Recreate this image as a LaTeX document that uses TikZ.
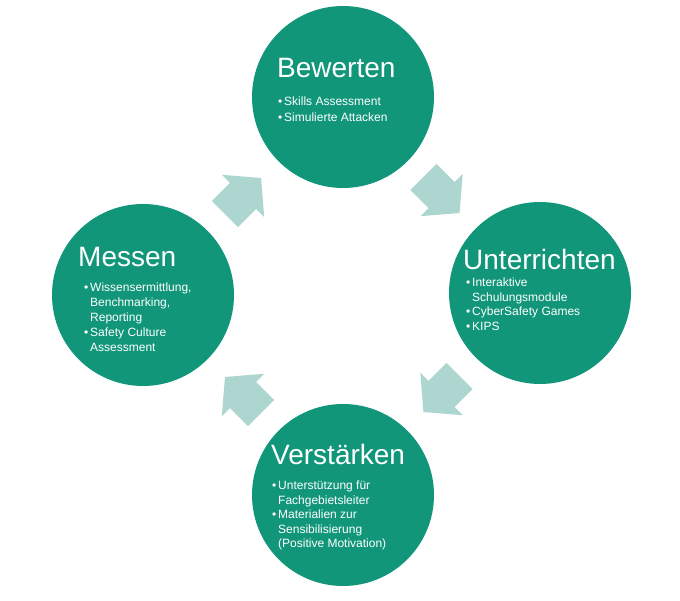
\documentclass[tikz,border=0pt]{standalone}
\usepackage{fontspec}
\setmainfont{Liberation Sans}
\usetikzlibrary{calc}
\definecolor{stagegreen}{RGB}{17,150,122}
\definecolor{flowgreen}{RGB}{174,214,209}
\def\blockarrow(#1)(#2)(#3){\fill[flowgreen, shift={($(#1)!0.5!(#2)$)}, rotate=#3] (-25.5,-18.5) -- (0,-18.5) -- (0,-30) -- (25.5,0) -- (0,30) -- (0,18.5) -- (-25.5,18.5) -- cycle;}
\newcommand{\bulletmark}{\makebox[6pt][l]{\textbullet}}
\newcommand{\bulletgap}{\hspace*{6pt}}

\tikzset{
	stage/.style={circle, fill=stagegreen, minimum size=182pt, inner sep=0pt},
	heading/.style={anchor=base west, text=white, font=\fontsize{28}{32}\selectfont, inner sep=0pt},
	points/.style={anchor=north west, text=white, align=left, font=\fontsize{12}{14.5}\selectfont, inner sep=0pt}
}

\begin{document}
\begin{tikzpicture}[x=1pt, y=1pt]
			%%%%% START %%%%%
			\useasboundingbox (0,0) rectangle (680,600);
			
			\node[stage] (bewerten) at (343,503) {};
			\node[stage] (unterrichten) at (540,307) {};
			\node[stage] (verstaerken) at (343,105) {};
			\node[stage] (messen) at (143,305) {};
			
			\node[heading] (bewerten-title) at (277,522) {Bewerten};
			\node[points, font=\fontsize{12}{16}\selectfont] (bewerten-list) at (278,503) {\bulletmark Skills Assessment\\\bulletmark Simulierte Attacken};
			
			\node[heading] (unterrichten-title) at (463,330) {Unterrichten};
			\node[points] (unterrichten-list) at (466,322) {\bulletmark Interaktive\\\bulletgap Schulungsmodule\\\bulletmark CyberSafety Games\\\bulletmark KIPS};
			
			\node[heading] (verstaerken-title) at (271,135) {Verstärken};
			\node[points] (verstaerken-list) at (272,119) {\bulletmark Unterstützung für\\\bulletgap Fachgebietsleiter\\\bulletmark Materialien zur\\\bulletgap Sensibilisierung\\\bulletgap (Positive Motivation)};
			
			\node[heading] (messen-title) at (78,333) {Messen};
			\node[points, font=\fontsize{12}{15}\selectfont] (messen-list) at (84,317) {\bulletmark Wissensermittlung,\\\bulletgap Benchmarking,\\\bulletgap Reporting\\\bulletmark Safety Culture\\\bulletgap Assessment};
			
			\blockarrow(bewerten)(unterrichten)(-45)
			\blockarrow(unterrichten)(verstaerken)(-135)
			\blockarrow(verstaerken)(messen)(135)
			\blockarrow(messen)(bewerten)(45)
			%%%%% END %%%%%
\end{tikzpicture}
\end{document}
